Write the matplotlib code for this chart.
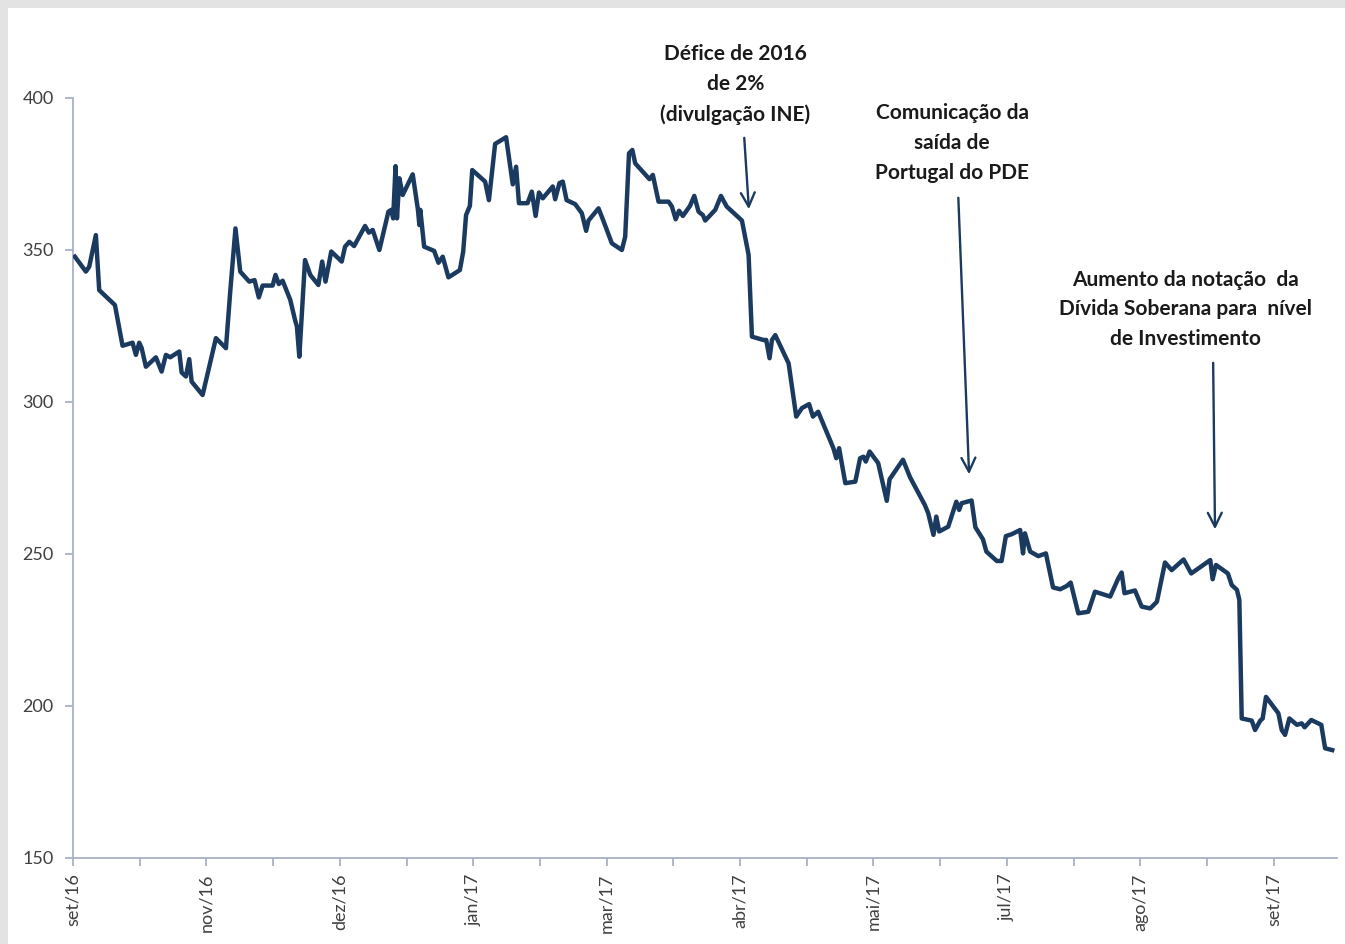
import matplotlib
matplotlib.use("Agg")
import matplotlib.pyplot as plt
from matplotlib.patches import Rectangle

plt.rcParams['font.family'] = ['Lato', 'DejaVu Sans']

# trading-day index (from set/16) and spread values
days = [0.4, 2.7, 3.4, 4.8, 5.5, 8.8, 9.9, 10.4, 12.5, 13.2, 13.9, 14.4, 15.3, 17.4, 18.6, 19.5,
        20.4, 22.3, 22.8, 23.7, 24.4, 24.9, 27.2, 30.0, 32.1, 33.0, 34.1, 35.1, 37.0, 38.1, 39.0,
        39.8, 41.9, 42.5, 43.2, 44.0, 45.6, 46.6, 47.0, 47.5, 48.7, 49.8, 51.5, 52.3, 53.0, 54.2,
        56.4, 57.1, 58.0, 59.0, 61.3, 62.1, 62.9, 64.3, 66.2, 66.8, 67.2, 67.7, 68.0, 68.5, 69.2,
        71.3, 72.4, 72.7, 72.9, 73.7, 75.8, 76.7, 77.6, 78.8, 81.2, 81.9, 82.5, 83.3, 83.8, 86.5,
        87.3, 88.6, 90.9, 92.3, 93.0, 93.6, 95.4, 96.3, 97.1, 97.8, 98.6, 100.7, 101.2, 102.1,
        102.8, 103.6, 105.4, 106.8, 107.7, 108.2, 110.3, 111.3, 113.1, 115.2, 115.9, 116.7, 117.4,
        118.0, 121.0, 121.7, 122.9, 125.0, 125.7, 126.5, 127.2, 128.0, 129.5, 130.4, 131.3, 132.2,
        132.7, 134.8, 136.0, 137.2, 140.4, 141.8, 142.5, 144.9, 145.5, 146.2, 146.7, 147.4, 150.2,
        151.8, 153.0, 154.5, 155.3, 156.4, 159.6, 160.2, 160.8, 162.1, 164.2, 165.2, 165.9, 166.4,
        167.2, 169.0, 170.8, 171.4, 172.5, 174.2, 175.7, 178.8, 179.5, 180.6, 181.2, 181.8, 183.7,
        185.4, 186.0, 186.5, 188.6, 189.4, 191.0, 191.7, 193.9, 194.9, 195.8, 197.0, 198.8, 199.4,
        199.8, 200.9, 202.6, 204.2, 205.7, 207.2, 208.6, 209.4, 211.0, 213.1, 214.5, 217.7, 219.4,
        220.1, 220.7, 222.9, 224.3, 226.1, 227.5, 229.2, 230.6, 233.1, 234.7, 238.7, 239.2, 239.9,
        242.4, 243.2, 244.3, 244.8, 245.3, 247.4, 248.1, 249.2, 249.7, 250.4, 253.0, 253.7, 254.4,
        255.3, 256.9, 257.9, 258.5, 259.9, 262.0, 262.8, 264.3]
spread = [347.8, 342.9, 344.5, 354.9, 336.8, 331.9, 322.7, 318.5, 319.5, 315.5, 319.5, 317.8, 311.6,
          314.7, 310.0, 315.5, 314.7, 316.6, 309.7, 308.4, 314.1, 306.7, 302.3, 321.0, 317.7, 336.3,
          357.1, 342.9, 339.6, 340.1, 334.4, 338.3, 338.3, 341.8, 338.8, 339.9, 333.6, 327.0, 324.8,
          314.9, 346.7, 341.8, 338.5, 346.2, 339.6, 349.5, 346.2, 351.1, 352.7, 351.3, 357.9, 355.7,
          356.6, 350.0, 362.6, 363.2, 360.4, 377.6, 360.4, 373.6, 368.1, 374.9, 363.2, 358.2, 363.2,
          351.1, 349.7, 345.8, 347.8, 341.0, 343.4, 349.5, 361.5, 364.5, 376.3, 372.5, 366.4, 384.9,
          387.1, 371.6, 377.4, 365.4, 365.4, 369.2, 361.2, 368.9, 367.0, 370.9, 366.7, 372.0, 372.5,
          366.4, 365.1, 362.1, 356.3, 359.7, 363.7, 359.7, 352.2, 350.0, 354.4, 381.8, 382.9, 378.5,
          373.3, 374.7, 365.9, 365.9, 364.3, 360.1, 362.9, 361.2, 364.5, 367.8, 362.6, 361.5, 359.7,
          363.2, 367.8, 364.3, 359.7, 348.4, 321.5, 320.4, 320.4, 314.4, 320.4, 322.0, 312.7, 295.2,
          298.0, 299.3, 295.2, 296.8, 284.8, 281.5, 284.8, 273.3, 273.8, 281.5, 282.0, 280.4, 283.7,
          279.9, 267.5, 274.6, 277.1, 281.0, 275.2, 266.1, 263.4, 256.3, 262.3, 257.4, 259.0, 267.2,
          264.5, 266.7, 267.6, 258.8, 254.8, 250.8, 247.7, 247.7, 255.9, 256.5, 257.9, 250.2, 256.8,
          250.8, 249.3, 250.2, 239.0, 238.4, 239.5, 240.6, 230.5, 231.0, 237.6, 236.0, 242.0, 243.9,
          237.1, 238.0, 232.7, 232.1, 234.3, 247.2, 244.7, 248.2, 243.6, 248.0, 241.7, 246.4, 243.6,
          239.8, 238.2, 234.9, 195.9, 195.2, 192.1, 195.2, 195.9, 203.0, 197.6, 192.1, 190.5, 195.9,
          193.8, 194.3, 193.0, 195.4, 193.8, 186.1, 185.5]

tick_days = [0, 28, 56, 84, 112, 140, 168, 196, 224, 252]
tick_labels = ["set/16", "nov/16", "dez/16", "jan/17", "mar/17", "abr/17",
               "mai/17", "jul/17", "ago/17", "set/17"]
minor_days = [14, 42, 70, 98, 126, 154, 182, 210, 238]

notes = ["Défice de 2016\nde 2%\n(divulgação INE)",
         "Comunicação da\nsaída de\nPortugal do PDE",
         "Aumento da notação  da\nDívida Soberana para  nível\nde Investimento"]
note_text_xy = [(139.0, 391.1), (184.5, 372.1), (233.5, 317.3)]
note_tail = [(140.85, 387.8), (185.8, 368.1), (239.3, 313.8)]
note_head = [(141.9, 362.5), (188.1, 275.3), (239.7, 257.2)]

navy = "#1b3a60"
axis_col = "#a8b2c7"

fig = plt.figure(figsize=(13.45, 9.44), dpi=100)
fig.patch.set_facecolor("#e3e3e3")
fig.patches.append(Rectangle((8 / 1345, 0), 1, 1 - 8 / 944, transform=fig.transFigure,
                             facecolor="white", edgecolor="none", zorder=-10))

ax = fig.add_axes([73 / 1345, 1 - 858 / 944, (1337 - 73) / 1345, (858 - 98) / 944])
ax.set_zorder(5)
ax.set_facecolor("none")
ax.plot(days, spread, color=navy, lw=3.2, solid_joinstyle="round", zorder=3)

ax.set_xlim(0, 265.3)
ax.set_ylim(150, 400)
ax.set_yticks([150, 200, 250, 300, 350, 400])
ax.set_xticks(tick_days)
ax.set_xticklabels(tick_labels, rotation=90)
ax.set_xticks(minor_days, minor=True)

for s in ["top", "right"]:
    ax.spines[s].set_visible(False)
for s in ["left", "bottom"]:
    ax.spines[s].set_color(axis_col)
    ax.spines[s].set_linewidth(1.3)
ax.tick_params(axis="both", which="both", color=axis_col, width=1.3, length=6,
               labelsize=13, labelcolor="#404040")
ax.tick_params(axis="y", pad=8)
ax.tick_params(axis="x", pad=5)

for txt, xy, tail, head in zip(notes, note_text_xy, note_tail, note_head):
    ax.text(xy[0], xy[1], txt, ha="center", va="bottom", fontsize=15, fontweight="bold",
            color="#1a1a1a", linespacing=1.62, clip_on=False)
    ax.annotate("", xy=head, xytext=tail, annotation_clip=False,
                arrowprops=dict(arrowstyle="->,head_length=1.0,head_width=0.5",
                                color=navy, lw=1.7))

fig.savefig("out.png", dpi=100)
